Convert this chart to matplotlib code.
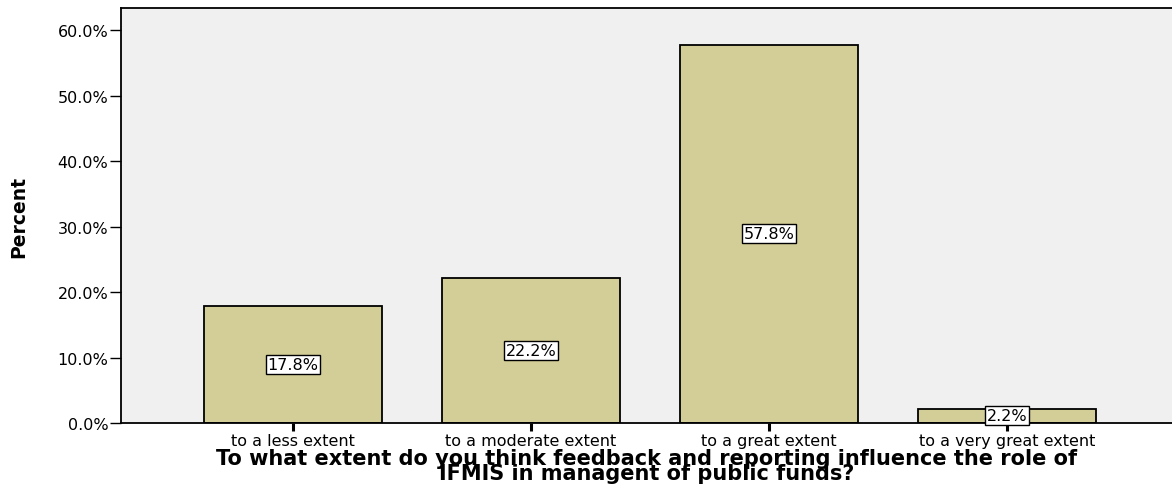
import matplotlib.pyplot as plt
from matplotlib.ticker import FuncFormatter

categorias = ["to a less extent", "to a moderate extent", "to a great extent", "to a very great extent"]
porcentajes = [17.8, 22.2, 57.8, 2.2]
ticks_y = [0, 10, 20, 30, 40, 50, 60]

plt.rcParams['font.family'] = ['DejaVu Sans']

fig = plt.figure(figsize=(11.72, 4.85), dpi=100)
ax = fig.add_axes([121 / 1172, 61 / 485, 1 - 121 / 1172, (424 - 9) / 485])
ax.set_facecolor("#f0f0f0")

x = range(len(categorias))
ax.bar(x, porcentajes, width=0.75, color="#d3ce97", edgecolor="black", linewidth=1.3, zorder=2)

# etiquetas de valor en el centro de cada barra
for i, v in enumerate(porcentajes):
    ax.text(i, v / 2, f"{v:.1f}%", ha="center", va="center", fontsize=11.5, zorder=3,
            bbox=dict(boxstyle="square,pad=0.12", facecolor="white", edgecolor="black", linewidth=1))

ax.set_xlim(-0.723, 3.693)
ax.set_ylim(0, 63.4)
ax.set_yticks(ticks_y)
ax.yaxis.set_major_formatter(FuncFormatter(lambda v, p: f"{v:.1f}%"))
ax.set_xticks(list(x))
ax.set_xticklabels(categorias)
ax.tick_params(axis="y", length=8, width=1, labelsize=11.5, pad=1)
ax.tick_params(axis="x", length=6, width=2.2, labelsize=11.5, pad=1)

for lado in ["left", "bottom", "top"]:
    ax.spines[lado].set_linewidth(1.3)
ax.spines["right"].set_visible(False)

ax.set_ylabel("Percent", fontsize=13.5, fontweight="bold")
ax.yaxis.set_label_coords(-0.088, 0.5)
ax.set_xlabel("To what extent do you think feedback and reporting influence the role of\nIFMIS in managent of public funds?",
              fontsize=15, fontweight="bold", linespacing=0.7, labelpad=0)

plt.savefig("out.png")
